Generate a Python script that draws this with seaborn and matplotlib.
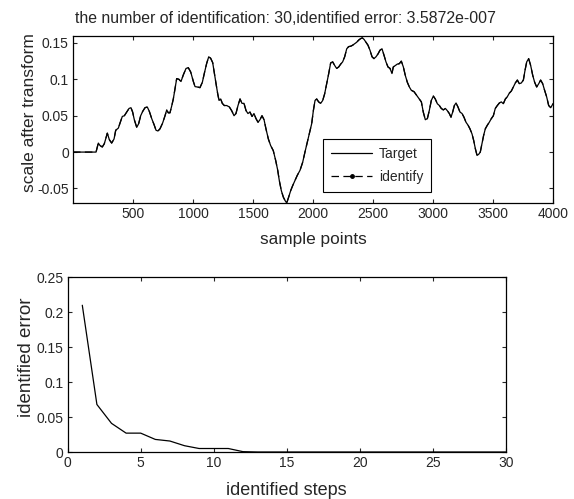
import numpy as np
import pandas as pd
import matplotlib
matplotlib.use('Agg')
import matplotlib.pyplot as plt
import seaborn as sns
from matplotlib.lines import Line2D

# data
sample_idx = [0, 192, 211, 225, 244, 261, 286, 303, 322, 342, 356, 378, 392, 411, 428, 447,
              467, 483, 497, 511, 531, 547, 564, 581, 600, 619, 636, 656, 675, 692, 708, 725,
              747, 767, 781, 794, 808, 822, 836, 850, 864, 883, 900, 919, 942, 961, 981, 1003,
              1017, 1036, 1058, 1078, 1094, 1114, 1131, 1147, 1164, 1178, 1192, 1206, 1217, 1231,
              1244, 1261, 1281, 1303, 1322, 1342, 1358, 1375, 1392, 1408, 1425, 1442, 1458, 1475,
              1492, 1508, 1525, 1542, 1558, 1575, 1592, 1608, 1628, 1647, 1669, 1689, 1706, 1719,
              1736, 1753, 1767, 1781, 1797, 1814, 1831, 1850, 1869, 1892, 1914, 1933, 1953, 1969,
              1989, 2003, 2017, 2031, 2047, 2064, 2081, 2097, 2114, 2131, 2147, 2164, 2181, 2197,
              2214, 2231, 2247, 2264, 2281, 2297, 2314, 2331, 2347, 2364, 2381, 2397, 2411, 2425,
              2442, 2458, 2475, 2492, 2508, 2525, 2542, 2558, 2575, 2592, 2608, 2625, 2642, 2658,
              2669, 2686, 2703, 2719, 2736, 2753, 2769, 2786, 2803, 2819, 2842, 2864, 2886, 2903,
              2919, 2936, 2953, 2969, 2986, 3003, 3019, 3036, 3053, 3069, 3086, 3103, 3119, 3136,
              3150, 3164, 3178, 3192, 3208, 3225, 3242, 3258, 3275, 3292, 3308, 3325, 3339, 3353,
              3367, 3381, 3394, 3408, 3422, 3436, 3453, 3469, 3486, 3503, 3519, 3536, 3553, 3569,
              3586, 3603, 3619, 3636, 3653, 3669, 3686, 3703, 3719, 3736, 3753, 3767, 3781, 3797,
              3814, 3831, 3847, 3864, 3881, 3897, 3914, 3930, 3947, 3964, 3981, 4000]
target = [0.0, 0.0, 0.0124, 0.009, 0.007, 0.0115, 0.026, 0.017, 0.0124, 0.018, 0.030, 0.033,
          0.040, 0.049, 0.050, 0.055, 0.060, 0.061, 0.055, 0.0445, 0.034, 0.039, 0.050, 0.056,
          0.061, 0.062, 0.056, 0.046, 0.038, 0.030, 0.029, 0.032, 0.040, 0.050, 0.058, 0.054,
          0.054, 0.063, 0.073, 0.087, 0.101, 0.100, 0.097, 0.106, 0.115, 0.116, 0.110, 0.097,
          0.090, 0.0895, 0.0886, 0.096, 0.108, 0.122, 0.131, 0.129, 0.123, 0.108, 0.094, 0.080,
          0.071, 0.073, 0.067, 0.064, 0.064, 0.062, 0.057, 0.050, 0.053, 0.064, 0.073, 0.067,
          0.067, 0.057, 0.053, 0.055, 0.049, 0.053, 0.046, 0.041, 0.0445, 0.050, 0.0445, 0.032,
          0.018, 0.009, 0.002, -0.0115, -0.025, -0.039, -0.053, -0.062, -0.0666, -0.070, -0.062,
          -0.053, -0.046, -0.039, -0.032, -0.025, -0.014, 0.0, 0.014, 0.025, 0.039, 0.057, 0.071,
          0.073, 0.069, 0.067, 0.071, 0.080, 0.094, 0.108, 0.1225, 0.124, 0.119, 0.115, 0.117,
          0.121, 0.124, 0.131, 0.142, 0.145, 0.1455, 0.147, 0.149, 0.151, 0.154, 0.156, 0.157,
          0.155, 0.151, 0.147, 0.140, 0.131, 0.1285, 0.131, 0.135, 0.140, 0.142, 0.133, 0.124,
          0.117, 0.115, 0.108, 0.117, 0.119, 0.121, 0.1215, 0.125, 0.117, 0.1055, 0.096, 0.0895,
          0.085, 0.083, 0.078, 0.073, 0.069, 0.055, 0.0445, 0.046, 0.057, 0.071, 0.077, 0.073,
          0.0665, 0.064, 0.060, 0.058, 0.060, 0.057, 0.053, 0.048, 0.055, 0.064, 0.0675, 0.062,
          0.055, 0.053, 0.048, 0.041, 0.037, 0.032, 0.025, 0.016, 0.0046, -0.0046, -0.003, 0.0,
          0.0115, 0.023, 0.032, 0.037, 0.041, 0.046, 0.050, 0.060, 0.064, 0.0675, 0.069, 0.0665,
          0.073, 0.076, 0.081, 0.084, 0.0895, 0.095, 0.099, 0.094, 0.095, 0.099, 0.1125, 0.124,
          0.1285, 0.119, 0.1055, 0.096, 0.0895, 0.094, 0.099, 0.094, 0.085, 0.076, 0.064, 0.061,
          0.0665]
identify = target  # identified curve overlaps the target (error ~3.6e-7)

steps = list(range(1, 31))
errors = [0.21, 0.068, 0.041, 0.027, 0.027, 0.018, 0.0157, 0.009, 0.005, 0.005, 0.005, 0.0005,
          0, 0, 0, 0, 0, 0, 0, 0, 0, 0, 0, 0, 0, 0, 0, 0, 0, 0]

top_xticks = [500, 1000, 1500, 2000, 2500, 3000, 3500, 4000]
top_yticks = [-0.05, 0, 0.05, 0.1, 0.15]
top_ylabels = ['-0.05', '0', '0.05', '0.1', '0.15']
bot_xticks = [0, 5, 10, 15, 20, 25, 30]
bot_yticks = [0, 0.05, 0.1, 0.15, 0.2, 0.25]
bot_ylabels = ['0', '0.05', '0.1', '0.15', '0.2', '0.25']

sns.set_style('ticks')
plt.rcParams['font.family'] = ['Liberation Sans', 'DejaVu Sans']

fig = plt.figure(figsize=(5.74, 4.99), dpi=100)
ax1 = fig.add_axes([73/574, 1-203/499, 480/574, 167.3/499])
ax2 = fig.add_axes([67.7/574, 1-452/499, 438/574, 174.7/499])

df = pd.DataFrame({'x': sample_idx, 'target': target, 'identify': identify})
sns.lineplot(data=df, x='x', y='target', ax=ax1, color='k', lw=0.9)
sns.lineplot(data=df, x='x', y='identify', ax=ax1, color='k', lw=0.9, dashes=False,
             linestyle=(0, (6, 3.5)))

ax1.set_xlim(0, 4000)
ax1.set_ylim(-0.07, 0.16)
ax1.set_xticks(top_xticks)
ax1.set_yticks(top_yticks)
ax1.set_yticklabels(top_ylabels)
ax1.set_xlabel('sample points', fontsize=12.4)
ax1.set_ylabel('scale after transform', fontsize=12.5)
ax1.yaxis.set_label_coords(-0.075, 0.538)
ax1.xaxis.set_label_coords(0.5, -0.172)
fig.text(285/574, 1-23/499, 'the number of identification: 30,identified error: 3.5872e-007',
         ha='center', va='baseline', fontsize=11.4)

handles = [Line2D([], [], color='k', lw=0.9, label='Target'),
           Line2D([], [], color='k', lw=0.9, linestyle=(0, (6, 3.5)), marker='.', markersize=5,
                  label='identify')]
leg = ax1.legend(handles=handles, loc='lower left', bbox_to_anchor=(0.521, 0.066),
                 borderaxespad=0, fancybox=False, framealpha=1, edgecolor='k',
                 fontsize=10, handlelength=2.9, numpoints=1, borderpad=0.6, labelspacing=0.6,
                 handletextpad=0.5)
leg.get_frame().set_linewidth(0.8)

sns.lineplot(x=steps, y=errors, ax=ax2, color='k', lw=0.9)
ax2.set_xlim(0, 30)
ax2.set_ylim(0, 0.25)
ax2.set_xticks(bot_xticks)
ax2.set_yticks(bot_yticks)
ax2.set_yticklabels(bot_ylabels)
ax2.set_xlabel('identified steps', fontsize=13)
ax2.set_ylabel('identified error', fontsize=13.5)
ax2.yaxis.set_label_coords(-0.074, 0.544)
ax2.xaxis.set_label_coords(0.5, -0.172)

for ax in (ax1, ax2):
    ax.tick_params(direction='in', top=True, right=True, labelsize=10, length=3, width=0.8, pad=3)
    for s in ax.spines.values():
        s.set_visible(True)
        s.set_linewidth(0.9)
        s.set_color('k')

fig.savefig('out.png', dpi=100)
